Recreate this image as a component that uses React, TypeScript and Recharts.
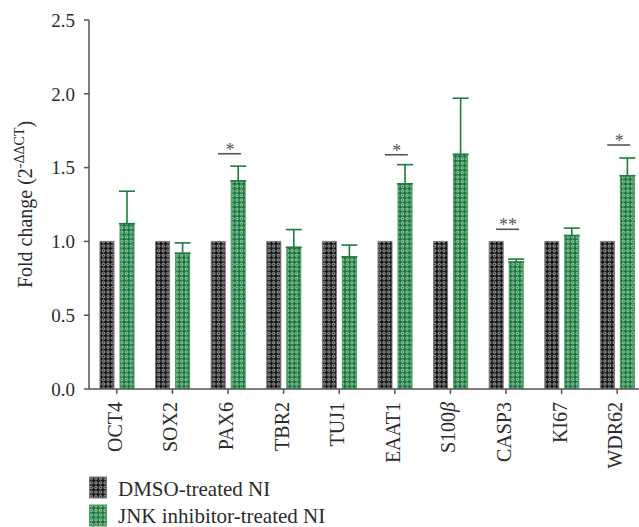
import React from 'react';
import { ComposedChart, Bar, XAxis, YAxis, ErrorBar, Scatter, Legend, Label } from 'recharts';

const categories = ['OCT4', 'SOX2', 'PAX6', 'TBR2', 'TUJ1', 'EAAT1', 'S100β', 'CASP3', 'KI67', 'WDR62'];
const dmsoValues = [1, 1, 1, 1, 1, 1, 1, 1, 1, 1];
const jnkValues = [1.12, 0.92, 1.41, 0.96, 0.895, 1.39, 1.59, 0.86, 1.04, 1.445];
const jnkErrors = [0.22, 0.07, 0.1, 0.12, 0.08, 0.13, 0.38, 0.02, 0.05, 0.12];
const sigHeights = [null, null, 1.594, null, null, 1.587, null, 1.082, null, 1.653];
const sigLabels = ['', '', '*', '', '', '*', '', '**', '', '*'];
const yTicks = [0, 0.5, 1, 1.5, 2, 2.5];
const seriesNames = ['DMSO-treated NI', 'JNK inhibitor-treated NI'];

const data = categories.map((name, i) => ({
  name,
  dmso: dmsoValues[i],
  jnk: jnkValues[i],
  err: [0, jnkErrors[i]],
  sig: sigHeights[i],
  sigLabel: sigLabels[i],
}));

const FONT = '"Liberation Serif", "DejaVu Serif", serif';
const TEXT = '#2b2b2b';
const AXIS = '#555';
const DARK_BG = '#151515';
const GREEN_BG = '#17773a';
const GREEN_ERR = '#1e7b3c';

const Patterns = ({ prefix }: { prefix: string }) => (
  <defs>
    <pattern id={`${prefix}Dmso`} patternUnits="userSpaceOnUse" width={4.6} height={4.6}>
      <rect width={4.6} height={4.6} fill={DARK_BG} />
      <circle cx={2.3} cy={2.3} r={1.25} fill="none" stroke="#ffffff" strokeWidth={0.7} />
    </pattern>
    <pattern id={`${prefix}Jnk`} patternUnits="userSpaceOnUse" width={4.6} height={4.6}>
      <rect width={4.6} height={4.6} fill={GREEN_BG} />
      <circle cx={2.3} cy={2.3} r={1.25} fill="none" stroke="#ffffff" strokeWidth={0.7} />
    </pattern>
  </defs>
);

const XTick = (props: any) => {
  const { x, y, payload } = props;
  const v: string = payload.value;
  return (
    <g transform={`translate(${x},${y})`}>
      <text
        transform="rotate(-90)"
        x={-6}
        y={5}
        textAnchor="end"
        fill={TEXT}
        fontSize={20}
        fontFamily={FONT}
      >
        {v.endsWith('β') ? (
          <>
            {v.slice(0, -1)}
            <tspan fontStyle="italic">β</tspan>
          </>
        ) : (
          v
        )}
      </text>
    </g>
  );
};

const TitleLabel = (props: any) => {
  const vb = props.viewBox || { x: 0, y: 20, width: 89, height: 369 };
  const cy = vb.y + vb.height / 2;
  const cx = 31.5;
  return (
    <text
      transform={`rotate(-90, ${cx}, ${cy})`}
      x={cx}
      y={cy}
      textAnchor="middle"
      fill={TEXT}
      fontSize={20}
      fontFamily={FONT}
    >
      Fold change (2
      <tspan dy={-8} fontSize={14}>-ΔΔCT</tspan>
      <tspan dy={8}>)</tspan>
    </text>
  );
};

const SigShape = (props: any) => {
  const { cx, cy, payload } = props;
  if (!payload || payload.sig == null || cx == null || cy == null) return <g />;
  return (
    <g>
      <line x1={cx - 10} x2={cx + 13} y1={cy} y2={cy} stroke={AXIS} strokeWidth={1.6} />
      <text x={cx + 2} y={cy + 2} textAnchor="middle" fill="#555" fontSize={18} fontFamily={FONT}>
        {payload.sigLabel}
      </text>
    </g>
  );
};

const LegendContent = () => (
  <svg width={340} height={54} style={{ display: 'block', overflow: 'visible' }}>
    <Patterns prefix="lg" />
    <rect x={0.5} y={1} width={17} height={21} fill="url(#lgDmso)" stroke="#777" strokeWidth={1} />
    <text x={29} y={20} fill={TEXT} fontSize={21} fontFamily={FONT}>
      {seriesNames[0]}
    </text>
    <rect x={0.5} y={29} width={17} height={21} fill="url(#lgJnk)" stroke="#4a9a5a" strokeWidth={1} />
    <text x={29} y={47} fill={TEXT} fontSize={21} fontFamily={FONT}>
      {seriesNames[1]}
    </text>
  </svg>
);

export default function App() {
  return (
    <div style={{ position: 'absolute', left: 0, top: 0, width: 639, height: 527, overflow: 'hidden', background: '#fff' }}>
      <ComposedChart
        width={645}
        height={527}
        data={data}
        margin={{ top: 20, right: 0, bottom: 0, left: 0 }}
        barGap={6}
      >
        <Patterns prefix="p" />
        <XAxis
          dataKey="name"
          interval={0}
          height={138}
          tickSize={5}
          axisLine={{ stroke: AXIS, strokeWidth: 1.5 }}
          tickLine={{ stroke: AXIS, strokeWidth: 1.5 }}
          tick={XTick}
        />
        <YAxis
          type="number"
          width={89}
          domain={[0, 2.5]}
          ticks={yTicks}
          allowDataOverflow
          tickFormatter={(v: number) => v.toFixed(1)}
          tickSize={5}
          tickMargin={9}
          axisLine={{ stroke: AXIS, strokeWidth: 1.5 }}
          tickLine={{ stroke: AXIS, strokeWidth: 1.5 }}
          tick={{ fill: TEXT, fontSize: 19, fontFamily: FONT }}
        >
          <Label content={TitleLabel} />
        </YAxis>
        <Bar
          dataKey="dmso"
          name={seriesNames[0]}
          barSize={14}
          fill="url(#pDmso)"
          stroke="#777"
          strokeWidth={1}
          isAnimationActive={false}
        />
        <Bar
          dataKey="jnk"
          name={seriesNames[1]}
          barSize={14}
          fill="url(#pJnk)"
          stroke="#4a9a5a"
          strokeWidth={1}
          isAnimationActive={false}
        >
          <ErrorBar
            dataKey="err"
            width={8}
            stroke={GREEN_ERR}
            strokeWidth={1.6}
            direction="y"
            isAnimationActive={false}
          />
        </Bar>
        <Scatter dataKey="sig" shape={SigShape} isAnimationActive={false} legendType="none" />
        <Legend
          layout="horizontal"
          verticalAlign="middle"
          align="center"
          content={LegendContent}
          wrapperStyle={{ position: 'absolute', left: 89, top: 476, width: 340, height: 54 }}
        />
      </ComposedChart>
    </div>
  );
}
